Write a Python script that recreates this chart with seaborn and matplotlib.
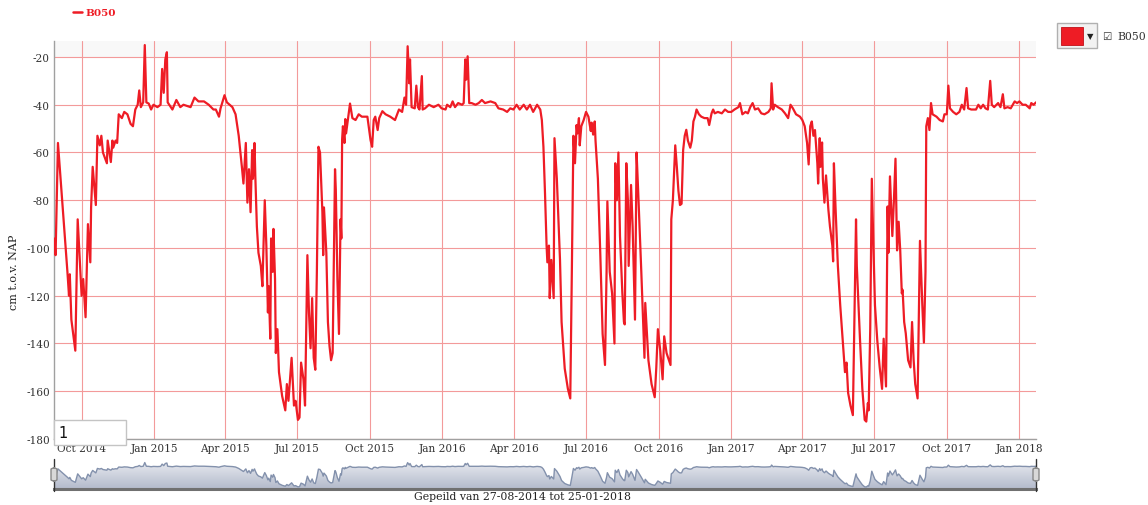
import numpy as np
import pandas as pd
import matplotlib
matplotlib.use("Agg")
import matplotlib.pyplot as plt
import matplotlib.dates as mdates
import seaborn as sns
from matplotlib.patches import Rectangle, FancyBboxPatch
from matplotlib.lines import Line2D
from matplotlib.colors import LinearSegmentedColormap

# ---------------- data ----------------
series_name = "B050"
start_date = "2014-08-27"
end_date = "2018-01-25"
y_label = "cm t.o.v. NAP"
range_box_text = "1"

# days since the first measurement
day_offset = [
    0, 2, 5, 11, 17, 19, 20, 22, 27, 30, 35, 37, 40, 43, 46, 47, 49, 53, 55, 58,
    60, 62, 67, 68, 72, 74, 75, 78, 80, 82, 86, 89, 93, 97, 100, 103, 106, 108, 110, 113,
    115, 117, 120, 123, 126, 131, 135, 137, 139, 141, 143, 144, 150, 155, 160, 164, 173, 178, 183, 190,
    196, 202,
    205, 209, 211, 216, 219, 226, 230, 234, 238, 240, 243, 245, 247, 249, 251, 252, 254, 255, 257, 259,
    262, 264, 266, 267, 269, 271, 272, 274, 275, 277, 278, 280, 281, 283, 285, 289, 293, 295, 297, 301,
    304, 306, 309, 311, 313, 316, 318, 321, 323, 325, 327, 329, 331, 333, 335, 337, 340, 341, 342, 345,
    347, 349, 351, 353, 356, 357, 359, 361, 363, 364, 365, 366, 368, 369, 370, 372, 375, 378, 382, 386,
    390, 397, 401, 403, 405, 407, 410, 412, 416, 420,
    426, 432, 437, 441, 444, 446, 448, 450, 451, 453, 457, 459, 461, 463, 466, 467, 470, 475, 481, 487,
    491, 496, 498, 502, 505, 508, 512, 517, 519, 521, 522, 524, 526, 529, 534, 538, 542, 546, 553, 559,
    563, 569, 574, 578, 582, 586, 590, 595, 599, 603, 607, 612, 616,
    618, 620, 622, 624, 625, 627, 628, 630, 633, 634, 637, 641, 643, 647, 651, 654, 656, 658, 660, 662,
    663, 665, 666, 668, 671, 674, 677, 680, 681, 683, 685, 686, 689, 692, 695, 698, 700, 701, 704, 707,
    710, 711, 713, 715, 717, 720, 722, 723, 725, 727, 728, 731, 733, 736, 738, 740, 744, 748, 749, 753,
    757, 761, 763, 765, 768, 771, 773, 776, 779, 781, 782, 784, 787, 789, 791, 793, 795, 797, 799, 801,
    803, 806, 808, 810, 812, 814, 817, 820, 824, 828, 830, 833, 835, 837,
    841, 846, 850, 854, 858, 862, 867, 869, 872, 876, 879, 882, 885, 888, 892, 896, 900, 905, 908, 909,
    911, 913, 917, 922, 926, 930, 933, 936, 940, 945, 948, 951, 954, 956, 958, 960, 962, 964, 967, 968,
    970, 971, 973, 974, 976, 978, 981, 983, 986, 987, 988, 990, 993, 996, 999, 1002, 1004, 1006, 1009, 1012,
    1016, 1017, 1021, 1024, 1027, 1029, 1031, 1032, 1034, 1036, 1038, 1040,
    1043, 1046, 1049, 1051, 1054, 1056, 1057, 1059, 1062, 1064, 1066, 1068, 1070, 1072, 1074, 1075, 1077, 1079,
    1082, 1085, 1087, 1089, 1091, 1094, 1097, 1100, 1102, 1104, 1105, 1107, 1109, 1111, 1113, 1118, 1122, 1126,
    1128, 1131, 1133, 1135, 1139, 1143, 1147, 1150, 1153, 1156, 1158, 1162, 1168, 1171, 1174, 1177, 1180, 1183,
    1186, 1188, 1191, 1196, 1199, 1202, 1204, 1208, 1212, 1217, 1220, 1223, 1227, 1231, 1236, 1238, 1241, 1244,
]

level_cm = [
    -96, -103, -56, -83, -110, -120, -111, -130, -143, -88, -120, -113, -129, -90, -106, -83, -66, -82, -53, -57,
    -53, -60, -64.5, -55, -64, -55, -58, -55, -56, -44, -45.6, -43, -44, -48, -49, -42, -40, -34, -41, -39,
    -15, -39, -39.5, -42, -40, -41, -40, -25, -35, -21, -18, -39, -42, -38, -41, -40, -41, -37, -38.6, -38.6,
    -40, -42,
    -42, -45, -41.5, -36, -39, -41, -44, -53, -66, -73, -56, -81, -67, -85, -59, -71, -56, -69.6, -91, -102,
    -107.5, -116, -91, -80, -99, -127, -116, -138, -96, -110, -92, -113, -144, -134, -152, -162, -168, -157, -164, -146,
    -166, -164, -172, -171, -148, -155, -166, -103, -127, -142, -121, -146, -151, -110, -57.6, -60, -85, -103, -83, -102,
    -131, -141, -147, -144, -67, -75.6, -113, -136, -88, -96, -54.5, -49, -56, -46, -52, -47, -39.5, -45.6, -46.4, -44,
    -45, -45, -54.8, -57.6, -46.4, -45, -50.6, -45.6, -42.7, -44,
    -45, -46.4, -42, -43, -37, -40, -15.5, -31, -21, -41, -41.5, -32, -41, -42, -28, -42, -41.5, -40, -41, -40,
    -41.5, -42, -40, -41, -38.6, -41, -39.3, -40, -39.3, -21, -29.5, -19.7, -39.3, -39.3, -40, -39.3, -38, -39.3, -38.6, -39.3,
    -41.5, -42, -43, -41.5, -42, -40, -42, -40, -42, -40, -43, -40, -42,
    -46.4, -57.6, -77, -99, -106, -99, -121, -105, -121, -54, -71, -105, -131, -150.5, -159, -163, -110, -53, -64.5, -48.5,
    -52, -45.6, -57, -49, -46.4, -43, -45, -51, -47.5, -52.5, -47, -55, -71, -102, -136, -149, -110, -80.5, -110, -119,
    -140, -64.5, -80, -60, -95, -119, -131, -132, -64.5, -80, -107.5, -73.6, -91, -130, -60, -76, -110, -146, -123, -147,
    -157, -162.5, -150, -134, -143, -155, -137, -144, -147, -149, -88, -80, -57, -66, -76, -82, -81.5, -59, -53, -50.5,
    -55, -58, -55, -47, -45, -42, -44, -45, -45.6, -45.6, -48.5, -43.6, -42, -43.6,
    -43, -43.6, -42, -43, -43, -42, -41, -39.3, -44, -43, -43.6, -41, -39.3, -42, -41.5, -43.6, -44, -43, -41.5, -31,
    -42, -40, -41, -42, -43.6, -45.6, -40, -41.5, -44, -45, -46.4, -49, -56, -65, -49, -47, -53, -50.6, -64.5, -73,
    -54, -66, -55.8, -71, -81, -69.6, -84, -91, -99, -105.6, -64.5, -82.6, -107.5, -124, -138, -152, -148, -160.7, -166, -170,
    -88, -107.5, -138, -159, -172, -172.7, -165, -168, -134, -71, -99, -124,
    -139, -150, -159, -138, -158, -82.6, -102, -70, -95, -80, -62.6, -101, -89, -101, -119, -117.5, -131, -135.7,
    -147, -150, -131, -147, -157, -163, -97, -124, -139.6, -110, -49, -45.6, -50.6, -39.3, -44, -45, -46.4, -47,
    -44, -44, -32, -41.5, -43, -44, -43, -40, -42, -33, -41.5, -42, -42, -40, -41.5, -40, -41.5, -42,
    -30, -40, -41, -39.3, -41, -35.6, -41.5, -41, -41.5, -38.6, -39.3, -38.6, -40, -40, -41.5, -39.3, -40, -39,
]

y_ticks = [-20, -40, -60, -80, -100, -120, -140, -160, -180]
x_tick_dates = ["2014-10-01", "2015-01-01", "2015-04-01", "2015-07-01", "2015-10-01",
                "2016-01-01", "2016-04-01", "2016-07-01", "2016-10-01", "2017-01-01",
                "2017-04-01", "2017-07-01", "2017-10-01", "2018-01-01"]

df = pd.DataFrame({
    "date": pd.to_datetime(start_date) + pd.to_timedelta(day_offset, unit="D"),
    "level": level_cm,
})

# ---------------- style ----------------
sns.set_theme(style="white")
plt.rcParams["font.family"] = ["DejaVu Serif", "DejaVu Sans"]

W, H = 1148, 506
RED = "#ee1c25"
GRID = "#f39a9a"
TXT = "#333333"

def fx(px):
    return px / W

def fy(py):
    return 1 - py / H

fig = plt.figure(figsize=(W / 100, H / 100), dpi=100)
fig.patch.set_facecolor("white")

# ---------------- main axes ----------------
ax = fig.add_axes([fx(54), fy(440), fx(1036) - fx(54), fy(42) - fy(440)])
ax.set_facecolor("white")
sns.lineplot(data=df, x="date", y="level", ax=ax, color=RED, linewidth=1.6,
             zorder=3, legend=False)

x0, x1 = df["date"].iloc[0], df["date"].iloc[-1]
ax.set_xlim(x0, x1)
ax.set_ylim(-180, -13.3)
ax.axhspan(-20, -13.3, color="#f8f8f8", zorder=0, lw=0)

ax.set_yticks(y_ticks)
ax.set_yticklabels([str(v) for v in y_ticks])
ax.set_xticks(pd.to_datetime(x_tick_dates))
ax.xaxis.set_major_formatter(mdates.DateFormatter("%b %Y"))

ax.grid(True, color=GRID, linewidth=0.8, zorder=1)
ax.set_axisbelow(True)
for s in ["top", "right"]:
    ax.spines[s].set_visible(False)
for s in ["left", "bottom"]:
    ax.spines[s].set_color("#a0a0a0")
    ax.spines[s].set_linewidth(1.0)
ax.tick_params(axis="both", length=0, labelsize=7.6, colors=TXT)
ax.tick_params(axis="y", pad=3)
ax.tick_params(axis="x", pad=3)
ax.set_xlabel("")
ax.set_ylabel("")

fig.text(fx(14), fy(272), y_label, rotation=90, ha="center", va="center",
         fontsize=8, color="#222222")

# range input box "1"
fig.add_artist(Rectangle((fx(54), fy(446)), fx(126) - fx(54), fy(421) - fy(446),
                         transform=fig.transFigure, facecolor="white",
                         edgecolor="#c4c4c4", linewidth=1, zorder=20))
fig.text(fx(58), fy(434), range_box_text, ha="left", va="center", fontsize=10.5,
         family="DejaVu Sans", color="#111111", zorder=21)

# ---------------- navigator ----------------
nav = fig.add_axes([fx(54), fy(490), fx(1036) - fx(54), fy(460) - fy(490)])
nav.set_xlim(x0, x1)
nav_lo, nav_hi = -186, 8
nav.set_ylim(nav_lo, nav_hi)
xn = mdates.date2num(df["date"])
fill = nav.fill_between(df["date"], df["level"], nav_lo, color="none", lw=0)
grad_cmap = LinearSegmentedColormap.from_list("nav", ["#b3bacb", "#eceef3"])
grad = np.linspace(0, 1, 100).reshape(-1, 1)
im = nav.imshow(grad, extent=[xn[0], xn[-1], nav_lo, nav_hi], origin="lower",
                aspect="auto", cmap=grad_cmap, zorder=1)
im.set_clip_path(fill.get_paths()[0], transform=nav.transData)
sns.lineplot(data=df, x="date", y="level", ax=nav, color="#8391ac", linewidth=1.0,
             zorder=2, legend=False)
nav.set_xlim(x0, x1)
nav.set_ylim(nav_lo, nav_hi)
nav.set_xticks([])
nav.set_yticks([])
nav.set_xlabel("")
nav.set_ylabel("")
for s in ["top", "right", "left"]:
    nav.spines[s].set_visible(False)
nav.spines["bottom"].set_color("#707070")
nav.spines["bottom"].set_linewidth(2.2)
nav.set_facecolor("white")

for xp in (54, 1036):
    fig.add_artist(Line2D([fx(xp), fx(xp)], [fy(492), fy(460)], transform=fig.transFigure,
                          color="#333333", linewidth=1.0, zorder=20))
    fig.add_artist(FancyBboxPatch((fx(xp - 3), fy(482)), fx(6), fy(469) - fy(482),
                                  boxstyle="round,pad=0,rounding_size=0.003",
                                  transform=fig.transFigure, facecolor="#d8d8d8",
                                  edgecolor="#888888", linewidth=1.0, zorder=21))

d0 = pd.to_datetime(start_date).strftime("%d-%m-%Y")
d1 = pd.to_datetime(end_date).strftime("%d-%m-%Y")
fig.text(fx(523), fy(497), f"Gepeild van {d0} tot {d1}", ha="center", va="center",
         fontsize=7.8, color="#222222")

# ---------------- legends ----------------
fig.add_artist(Line2D([fx(73), fx(82)], [fy(13), fy(13)], transform=fig.transFigure,
                      color=RED, linewidth=1.8))
fig.text(fx(85), fy(13.5), series_name, ha="left", va="center", fontsize=7.5,
         fontweight="bold", color=RED)

fig.add_artist(Rectangle((fx(1057), fy(49)), fx(40), fy(24) - fy(49),
                         transform=fig.transFigure, facecolor="#f2f2f2",
                         edgecolor="#b0b0b0", linewidth=1))
fig.add_artist(Rectangle((fx(1061), fy(46)), fx(22), fy(28) - fy(46),
                         transform=fig.transFigure, facecolor=RED,
                         edgecolor="#c01018", linewidth=0.6))
fig.text(fx(1090), fy(36.5), "\u25bc", ha="center", va="center", fontsize=6,
         family="DejaVu Sans", color="#222222")
fig.text(fx(1106.5), fy(36.5), "\u2611", ha="center", va="center", fontsize=7.5,
         family="DejaVu Sans", color="#333333")
fig.text(fx(1117), fy(36.5), series_name, ha="left", va="center", fontsize=7.8,
         color=TXT)

fig.savefig("out.png", dpi=100, facecolor="white")
